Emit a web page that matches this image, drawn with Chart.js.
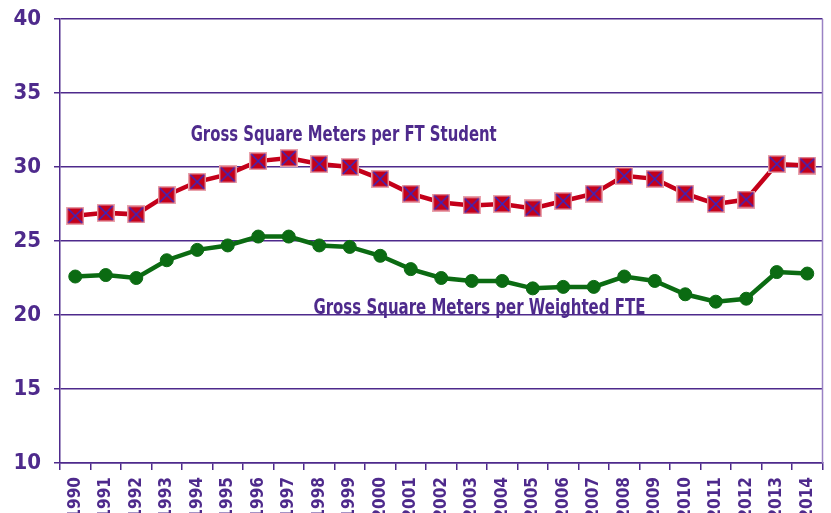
<!DOCTYPE html>
<html>
<head>
<meta charset="utf-8">
<script src="https://cdn.jsdelivr.net/npm/chart.js@4/dist/chart.umd.min.js"></script>
<style>
  html, body { margin: 0; padding: 0; background: #fff; overflow: hidden; }
  canvas { display: block; }
</style>
</head>
<body>
<canvas id="canvas" width="831" height="513"></canvas>
<script>
const years = ['1990', '1991', '1992', '1993', '1994', '1995', '1996', '1997', '1998', '1999',
  '2000', '2001', '2002', '2003', '2004', '2005', '2006', '2007', '2008', '2009',
  '2010', '2011', '2012', '2013', '2014'];

const perStudent = [26.7, 26.9, 26.8, 28.1, 29.0, 29.5, 30.4, 30.6, 30.2, 30.0,
  29.2, 28.2, 27.6, 27.4, 27.5, 27.2, 27.7, 28.2, 29.4, 29.2,
  28.2, 27.5, 27.8, 30.2, 30.1];

const perWeightedFte = [22.6, 22.7, 22.5, 23.7, 24.4, 24.7, 25.3, 25.3, 24.7, 24.6,
  24.0, 23.1, 22.5, 22.3, 22.3, 21.8, 21.9, 21.9, 22.6, 22.3,
  21.4, 20.9, 21.1, 22.9, 22.8];

const yTicks = [10, 15, 20, 25, 30, 35, 40];

const seriesNames = ['Gross Square Meters per FT Student', 'Gross Square Meters per Weighted FTE'];

const purple = '#4e2a8c';
const fontFamily = "'DejaVu Sans Condensed', 'Liberation Sans', sans-serif";

// red square with a blue cross, used as the point marker of the first series
function squareCross() {
  const c = document.createElement('canvas');
  c.width = 18; c.height = 18;
  const g = c.getContext('2d');
  g.fillStyle = '#e9a3ad';
  g.fillRect(0, 0, 18, 18);
  g.fillStyle = '#c4001a';
  g.fillRect(1.5, 1.5, 15, 15);
  g.strokeStyle = '#2a2ad0';
  g.lineWidth = 1.4;
  g.beginPath();
  g.moveTo(2, 2); g.lineTo(16, 16);
  g.moveTo(16, 2); g.lineTo(2, 16);
  g.stroke();
  return c;
}

// text labels placed beside the lines, plus the right frame line
const seriesLabels = {
  id: 'seriesLabels',
  afterDatasetsDraw(chart, args, opts) {
    const { ctx, scales: { x, y }, chartArea } = chart;
    ctx.save();
    ctx.strokeStyle = '#9a82c4';
    ctx.lineWidth = 1.5;
    ctx.beginPath();
    ctx.moveTo(chartArea.right, chartArea.top);
    ctx.lineTo(chartArea.right, chartArea.bottom);
    ctx.stroke();

    ctx.fillStyle = purple;
    ctx.font = 'bold 22px ' + fontFamily;
    ctx.textAlign = 'center';
    ctx.textBaseline = 'middle';
    opts.items.forEach(it => {
      const w = ctx.measureText(it.text).width;
      const k = it.width / w;
      ctx.save();
      ctx.translate(x.getPixelForValue(it.at), y.getPixelForValue(it.value));
      ctx.scale(k, 1);
      ctx.fillText(it.text, 0, 0);
      ctx.restore();
    });
    ctx.restore();
  }
};

const canvas = document.getElementById('canvas');
const chart = new Chart(canvas, {
  type: 'line',
  data: {
    labels: years,
    datasets: [
      {
        label: seriesNames[0],
        data: perStudent,
        borderColor: '#c4001a',
        backgroundColor: '#c4001a',
        borderWidth: 4.5,
        pointStyle: squareCross(),
        tension: 0,
      },
      {
        label: seriesNames[1],
        data: perWeightedFte,
        borderColor: '#0b6b12',
        backgroundColor: '#0b6b12',
        borderWidth: 4.5,
        pointStyle: 'circle',
        pointRadius: 6.5,
        pointBorderWidth: 1,
        pointHoverRadius: 6.5,
        tension: 0,
      },
    ],
  },
  options: {
    responsive: false,
    animation: false,
    layout: { padding: { top: 19, right: 4, left: 0, bottom: 0 } },
    plugins: {
      legend: { display: false },
      tooltip: { enabled: false },
      seriesLabels: {
        items: [
          { text: seriesNames[0], at: 8.8, value: 32.15, width: 306 },
          { text: seriesNames[1], at: 13.25, value: 20.45, width: 332 },
        ],
      },
    },
    scales: {
      x: {
        offset: true,
        afterFit: s => { s.height = 50; s.paddingLeft = 0; s.paddingRight = 0; },
        grid: {
          offset: true,
          drawOnChartArea: false,
          drawTicks: true,
          tickLength: 7,
          color: purple,
          lineWidth: 1.5,
        },
        border: { color: purple, width: 1.5 },
        ticks: {
          autoSkip: false,
          minRotation: 90,
          maxRotation: 90,
          padding: 7,
          color: purple,
          font: { family: fontFamily, size: 17, weight: 'bold' },
        },
      },
      y: {
        min: 10,
        max: 40,
        afterFit: s => { s.width = 60; s.paddingTop = 0; s.paddingBottom = 0; },
        afterBuildTicks: s => { s.ticks = yTicks.map(v => ({ value: v })); },
        grid: {
          color: purple,
          lineWidth: 1.5,
          tickLength: 6,
        },
        border: { color: purple, width: 1.5 },
        ticks: {
          padding: 13,
          color: purple,
          font: { family: fontFamily, size: 22, weight: 'bold' },
        },
      },
    },
  },
  plugins: [seriesLabels],
});
</script>
</body>
</html>
